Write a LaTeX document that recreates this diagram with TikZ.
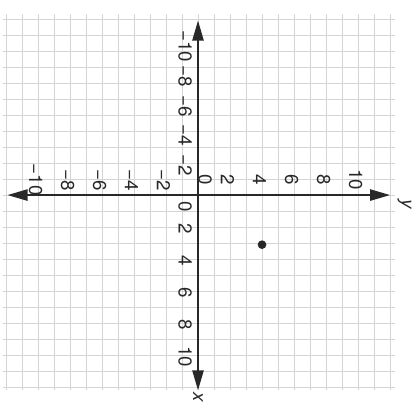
\documentclass[tikz,border=0pt]{standalone}
\usepackage{fontspec}
\setmainfont{TeX Gyre Heros}
\usepackage{tikz}
\usetikzlibrary{arrows.meta}
\definecolor{gridgray}{RGB}{212,212,212}
\definecolor{inkgray}{RGB}{40,40,40}

\begin{document}
\begin{tikzpicture}[
    x=0.48cm, y=0.48cm,
    gridline/.style={gridgray, line width=0.5pt},
    axis/.style={{Triangle[length=6mm, width=3.4mm]}-{Triangle[length=6mm, width=3.4mm]}, inkgray, line width=1.3pt},
    tick/.style={inkgray, rotate=-90, inner sep=0pt, font=\fontsize{16}{18}\selectfont},
    dot/.style={circle, fill=inkgray, inner sep=0pt, minimum size=2.6mm},
]
    \useasboundingbox (-12.375,-13) rectangle (13.81,12.19);
    \draw[gridline, step=1] (-12.2,-12.2) grid (12.3,11.3);

    \coordinate (left) at (-11.9,0);
    \coordinate (right) at (12,0);
    \coordinate (top) at (0,10.9);
    \coordinate (bottom) at (0,-12.2);
    \draw[axis] (left) -- (right);
    \draw[axis] (top) -- (bottom);

    % labels along the horizontal axis
    \foreach \i in {2,4,6,8,10} {
        \node[tick] (hp\i) at (\i-0.15,0.95) {\i};
        \node[tick] (hn\i) at (-\i-0.15,0.95) {−\i};
    }
    \node[tick] (h0) at (0.45,0.95) {0};
    % labels along the vertical axis
    \foreach \i in {2,4,6,8,10} {
        \node[tick] (vp\i) at (-0.8,-\i-0.1) {\i};
        \node[tick] (vn\i) at (-0.8,\i*0.93) {−\i};
    }
    \node[tick] (v0) at (-0.8,-0.75) {0};

    \node[tick, font=\fontsize{16}{18}\selectfont\itshape] (ylab) at (12.9,-0.55) {y};
    \node[tick, font=\fontsize{16}{18}\selectfont\itshape] (xlab) at (0,-12.65) {x};

    \node[dot] (pt) at (4,-3.1) {};
\end{tikzpicture}
\end{document}
